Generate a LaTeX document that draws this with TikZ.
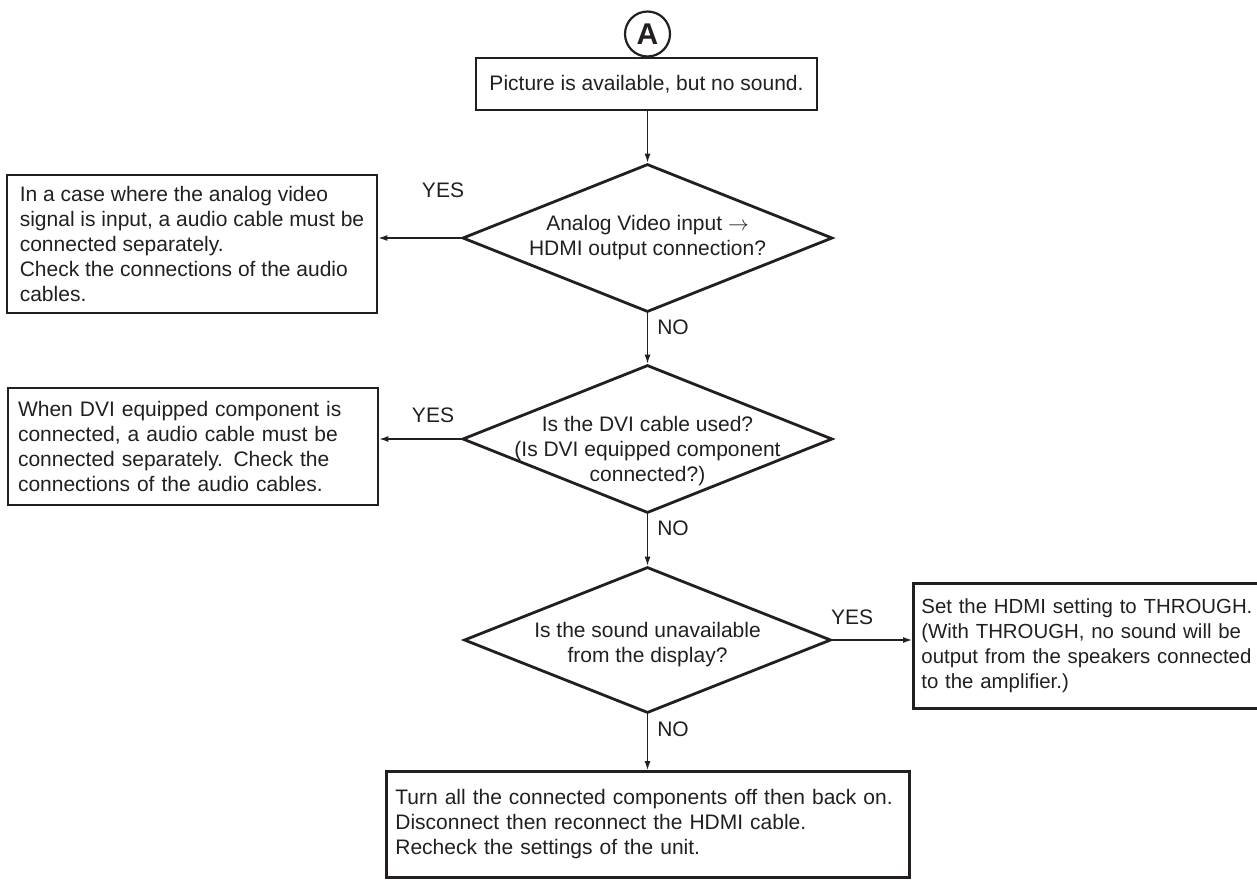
\documentclass[tikz,border=0pt]{standalone}
\usepackage{fontspec}
\setmainfont{Liberation Sans}
\usetikzlibrary{arrows.meta,shapes.geometric}
\definecolor{ink}{HTML}{231F20}
\newcommand{\flowfont}{\fontsize{21}{25}\selectfont}
\tikzset{>=Latex,
  box/.style={draw=ink,line width=2.8pt,inner xsep=10pt,inner ysep=0pt,align=left,text=ink,font=\flowfont},
  query/.style={diamond,draw=ink,line width=2.8pt,inner sep=0pt,minimum width=370pt,minimum height=148pt},
  qtext/.style={align=center,text=ink,font=\flowfont,inner sep=0pt},
  flow/.style={draw=ink,line width=1.2pt,-{Latex[length=9pt,width=6pt]}},
  ans/.style={text=ink,font=\flowfont,inner sep=0pt}}

\begin{document}
\begin{tikzpicture}[x=1pt,y=-1pt]
  \useasboundingbox (0,0) rectangle (1257,879);
  \clip (0,0) rectangle (1257,879);
  \node[circle,draw=ink,line width=2.2pt,minimum size=45pt,inner sep=0pt,text=ink,
    font=\bfseries\fontsize{30}{30}\selectfont] (tagA) at (647.5,34) {A};
  \node[box,align=center,minimum width=341pt,minimum height=52pt] (nosound) at (646.5,84)
    {Picture is available, but no sound.};
  \node[query,label={[qtext]center:{Analog Video input $\rightarrow$\\HDMI output connection?}}]
    (qanalog) at (647.5,238) {};
  \node[box,minimum width=370pt,minimum height=138pt] (analogfix) at (192,244)
    {In a case where the analog video\\signal is input, a audio cable must be\\connected separately.\\Check the connections of the audio\\cables.};
  \node[query,label={[qtext,yshift=-12pt]center:{Is the DVI cable used?\\(Is DVI equipped component\\connected?)}}]
    (qdvi) at (647.5,439) {};
  \node[box,text width=350pt,minimum height=117pt] (dvifix) at (193,446.5)
    {When DVI equipped component is\\connected, a audio cable must be\\connected separately. Check the\\connections of the audio cables.};
  \node[query,minimum width=367pt,minimum height=146pt,
    label={[qtext,yshift=-5pt]center:{Is the sound unavailable\\from the display?}}]
    (qsound) at (647.5,640) {};
  \node[box,inner xsep=8pt,text width=360pt,minimum height=125pt,anchor=north west,
    font=\fontsize{20.4}{25}\selectfont] (through) at (912,582)
    {Set the HDMI setting to THROUGH.\\(With THROUGH, no sound will be\\output from the speakers connected\\to the amplifier.)};
  \node[box,inner xsep=9pt,text width=505pt,minimum height=106pt,anchor=north west] (restart) at (385,770)
    {Turn all the connected components off then back on.\\Disconnect then reconnect the HDMI cable.\\Recheck the settings of the unit.};
  \node[ans] (yesanalog) at (443,190) {YES};
  \node[ans] (noanalog) at (673,327) {NO};
  \node[ans] (yesdvi) at (433,415) {YES};
  \node[ans] (nodvi) at (673,528) {NO};
  \node[ans] (yessound) at (852,617) {YES};
  \node[ans] (nosoundb) at (673,729) {NO};
  \draw[flow] (qanalog.north |- nosound.south) -- (qanalog.north);
  \draw[flow] (qanalog.west) -- (qanalog.west -| analogfix.east);
  \draw[flow] (qanalog.south) -- (qdvi.north);
  \draw[flow] (qdvi.west) -- (qdvi.west -| dvifix.east);
  \draw[flow] (qdvi.south) -- (qsound.north);
  \draw[flow] (qsound.east) -- (qsound.east -| through.west);
  \draw[flow] (qsound.south) -- (qsound.south |- restart.north);
\end{tikzpicture}
\end{document}
